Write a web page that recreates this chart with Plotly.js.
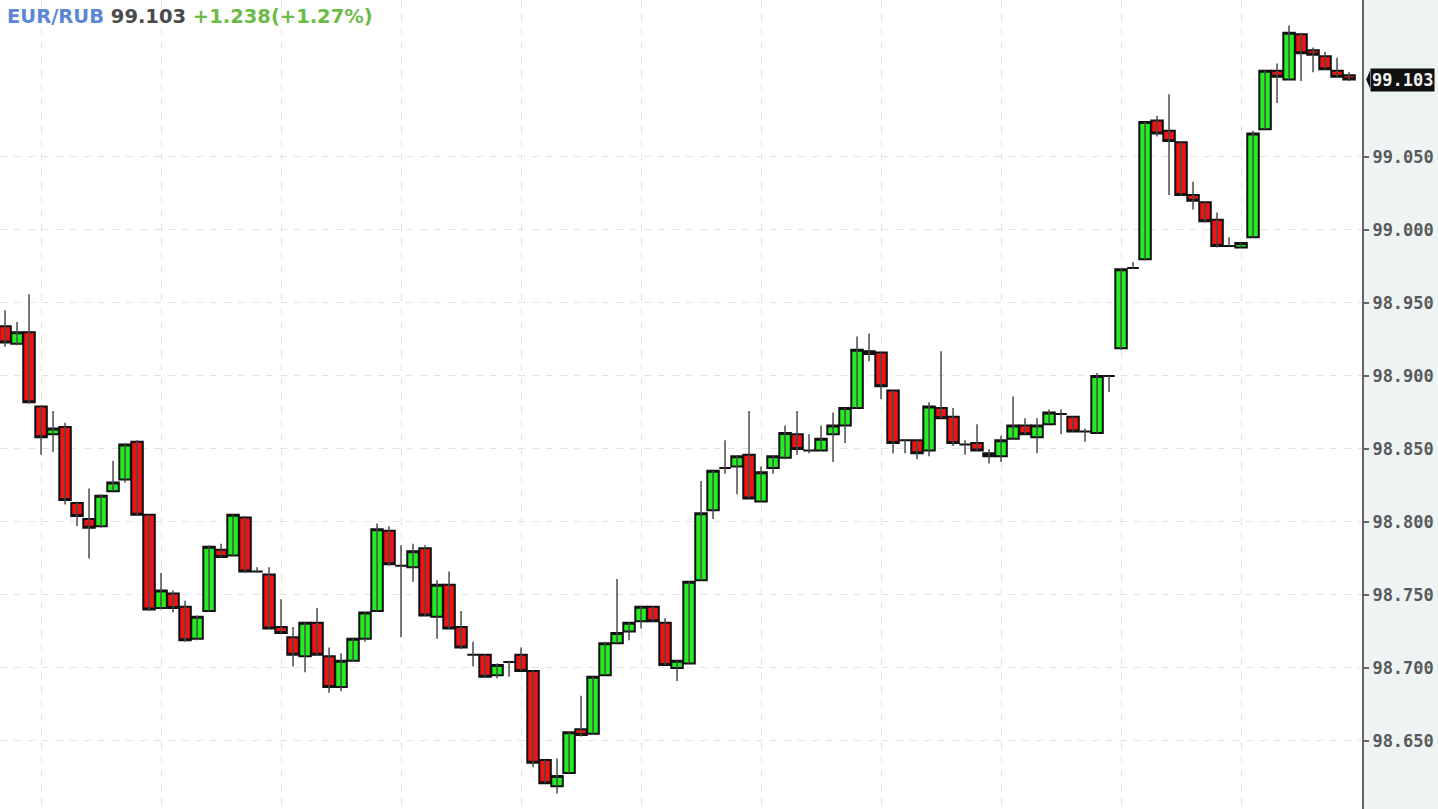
<!DOCTYPE html>
<html>
<head>
<meta charset="utf-8">
<script src="https://cdn.plot.ly/plotly-3.0.1.min.js"></script>
<style>
  html, body { margin: 0; padding: 0; background: #eef3f3; }
  #chart { width: 1438px; height: 809px; }
</style>
</head>
<body>
<div id="chart"></div>
<script>
// EUR/RUB candles (oldest first)
var openVals = [
  98.934, 98.922, 98.930, 98.879, 98.860, 98.865, 98.813, 98.802, 98.797, 98.821,
  98.829, 98.855, 98.805, 98.741, 98.751, 98.742, 98.720, 98.739, 98.781, 98.777,
  98.803, 98.766, 98.764, 98.728, 98.721, 98.708, 98.731, 98.708, 98.687, 98.705,
  98.720, 98.739, 98.794, 98.770, 98.769, 98.782, 98.735, 98.757, 98.728, 98.709,
  98.709, 98.695, 98.704, 98.709, 98.698, 98.637, 98.619, 98.628, 98.658, 98.655,
  98.695, 98.717, 98.725, 98.732, 98.742, 98.731, 98.700, 98.703, 98.760, 98.808,
  98.837, 98.838, 98.846, 98.814, 98.837, 98.844, 98.860, 98.849, 98.849, 98.860,
  98.866, 98.878, 98.917, 98.916, 98.890, 98.856, 98.856, 98.849, 98.878, 98.872,
  98.853, 98.854, 98.847, 98.845, 98.857, 98.866, 98.858, 98.867, 98.874, 98.872,
  98.862, 98.861, 98.900, 98.919, 98.974, 98.980, 99.075, 99.068, 99.060, 99.024,
  99.019, 99.007, 98.989, 98.988, 98.995, 99.069, 99.109, 99.103, 99.134, 99.123,
  99.119, 99.109, 99.106
];
var highVals = [
  98.945, 98.937, 98.956, 98.880, 98.876, 98.868, 98.814, 98.823, 98.819, 98.842,
  98.854, 98.856, 98.805, 98.765, 98.753, 98.746, 98.736, 98.784, 98.785, 98.805,
  98.804, 98.769, 98.769, 98.747, 98.728, 98.731, 98.741, 98.714, 98.710, 98.720,
  98.738, 98.799, 98.797, 98.784, 98.785, 98.784, 98.760, 98.766, 98.739, 98.718,
  98.709, 98.703, 98.705, 98.714, 98.698, 98.637, 98.638, 98.656, 98.681, 98.694,
  98.718, 98.761, 98.731, 98.742, 98.742, 98.734, 98.705, 98.759, 98.828, 98.835,
  98.856, 98.845, 98.876, 98.838, 98.845, 98.866, 98.876, 98.860, 98.866, 98.875,
  98.878, 98.927, 98.929, 98.916, 98.890, 98.856, 98.856, 98.882, 98.917, 98.878,
  98.856, 98.867, 98.850, 98.859, 98.886, 98.871, 98.871, 98.877, 98.877, 98.872,
  98.864, 98.902, 98.900, 98.973, 98.978, 99.074, 99.078, 99.093, 99.060, 99.033,
  99.019, 99.012, 98.995, 98.991, 99.068, 99.109, 99.114, 99.140, 99.135, 99.125,
  99.122, 99.118, 99.108
];
var lowVals = [
  98.920, 98.921, 98.881, 98.846, 98.848, 98.812, 98.797, 98.775, 98.796, 98.821,
  98.827, 98.805, 98.739, 98.740, 98.738, 98.718, 98.719, 98.739, 98.776, 98.777,
  98.765, 98.765, 98.727, 98.724, 98.701, 98.697, 98.709, 98.683, 98.684, 98.705,
  98.718, 98.739, 98.770, 98.721, 98.759, 98.736, 98.720, 98.727, 98.713, 98.701,
  98.694, 98.693, 98.694, 98.698, 98.632, 98.621, 98.614, 98.628, 98.653, 98.655,
  98.695, 98.717, 98.719, 98.727, 98.732, 98.702, 98.691, 98.703, 98.760, 98.802,
  98.833, 98.819, 98.816, 98.814, 98.833, 98.843, 98.846, 98.847, 98.849, 98.841,
  98.854, 98.878, 98.910, 98.884, 98.847, 98.847, 98.843, 98.845, 98.871, 98.852,
  98.846, 98.849, 98.840, 98.841, 98.857, 98.860, 98.847, 98.867, 98.860, 98.862,
  98.855, 98.861, 98.889, 98.918, 98.973, 98.979, 99.064, 99.024, 99.024, 99.014,
  99.005, 98.988, 98.989, 98.988, 98.995, 99.069, 99.087, 99.103, 99.102, 99.108,
  99.110, 99.105, 99.102
];
var closeVals = [
  98.923, 98.930, 98.882, 98.858, 98.864, 98.815, 98.804, 98.796, 98.818, 98.827,
  98.853, 98.805, 98.740, 98.753, 98.741, 98.719, 98.735, 98.783, 98.776, 98.805,
  98.766, 98.766, 98.727, 98.724, 98.709, 98.731, 98.709, 98.687, 98.705, 98.720,
  98.738, 98.795, 98.771, 98.770, 98.780, 98.736, 98.757, 98.727, 98.714, 98.709,
  98.694, 98.702, 98.704, 98.698, 98.635, 98.621, 98.626, 98.656, 98.654, 98.694,
  98.717, 98.724, 98.731, 98.742, 98.732, 98.702, 98.705, 98.759, 98.806, 98.835,
  98.837, 98.845, 98.816, 98.834, 98.845, 98.861, 98.850, 98.849, 98.857, 98.866,
  98.878, 98.918, 98.915, 98.893, 98.854, 98.856, 98.847, 98.879, 98.871, 98.854,
  98.853, 98.849, 98.845, 98.856, 98.866, 98.860, 98.866, 98.875, 98.874, 98.862,
  98.862, 98.900, 98.900, 98.973, 98.974, 99.074, 99.066, 99.061, 99.024, 99.020,
  99.006, 98.989, 98.989, 98.991, 99.066, 99.109, 99.105, 99.135, 99.121, 99.120,
  99.110, 99.105, 99.103
];
var priceTicks = [98.65, 98.70, 98.75, 98.80, 98.85, 98.90, 98.95, 99.00, 99.05];
var timeGrid = [3, 13, 23, 33, 43, 53, 63, 73, 83, 93, 103];

var symbol = 'EUR/RUB';
var lastPrice = 99.103;
var change = '+1.238';
var changePct = '+1.27%';

var bars = openVals.map(function (v, i) { return i; });

// bodies only: the wicks are drawn by the ohlc trace underneath, thinner and grey
var bodyTop = openVals.map(function (o, i) { return Math.max(o, closeVals[i]); });
var bodyBottom = openVals.map(function (o, i) { return Math.min(o, closeVals[i]); });

var wicks = {
  type: 'ohlc',
  x: bars,
  open: openVals,
  high: highVals,
  low: lowVals,
  close: closeVals,
  tickwidth: 0,
  increasing: { line: { color: '#4a4a4a', width: 1.5 } },
  decreasing: { line: { color: '#4a4a4a', width: 1.5 } },
  hoverinfo: 'skip',
  showlegend: false
};

var bodies = {
  type: 'candlestick',
  x: bars,
  open: openVals,
  high: bodyTop,
  low: bodyBottom,
  close: closeVals,
  whiskerwidth: 0,
  increasing: { fillcolor: '#22ee22', line: { color: '#111111', width: 2 } },
  decreasing: { fillcolor: '#ee1414', line: { color: '#111111', width: 2 } },
  hoverinfo: 'skip',
  showlegend: false
};

var layout = {
  width: 1438,
  height: 809,
  margin: { l: 0, r: 76, t: 0, b: 0 },
  paper_bgcolor: '#eef3f3',
  plot_bgcolor: '#ffffff',
  boxgap: 0.04,
  boxgroupgap: 0,
  showlegend: false,
  xaxis: {
    range: [-0.42, 113.08],
    rangeslider: { visible: false },
    tickvals: timeGrid,
    showticklabels: false,
    ticks: '',
    showgrid: true,
    gridcolor: '#e3e3e3',
    griddash: '7px,7px',
    zeroline: false,
    showline: false,
    fixedrange: true
  },
  yaxis: {
    side: 'right',
    range: [98.6034, 99.1575],
    tickvals: priceTicks,
    ticktext: priceTicks.map(function (v) { return v.toFixed(3); }),
    ticks: 'outside',
    ticklen: 5,
    tickwidth: 1.5,
    tickcolor: '#666666',
    tickfont: { family: 'DejaVu Sans Mono', size: 17, color: '#5a5a5a', weight: 'bold' },
    showgrid: true,
    gridcolor: '#e3e3e3',
    griddash: '7px,7px',
    zeroline: false,
    showline: true,
    linecolor: '#666666',
    linewidth: 2,
    fixedrange: true
  },
  shapes: [
    {
      type: 'path',
      xref: 'paper', yref: 'y',
      path: 'M 1.0031,' + lastPrice + ' L 1.0059,' + (lastPrice + 0.0062) +
            ' L 1.0059,' + (lastPrice - 0.0062) + ' Z',
      fillcolor: '#111111',
      line: { width: 0 }
    }
  ],
  annotations: [
    {
      xref: 'paper', yref: 'paper',
      x: 0, y: 1, xanchor: 'left', yanchor: 'top',
      xshift: 5, yshift: -3,
      showarrow: false,
      align: 'left',
      font: { family: 'DejaVu Sans', size: 19.5, weight: 'bold' },
      text: '<span style="color:#5b87d6">' + symbol + '</span> ' +
            '<span style="color:#4a4a4a">' + lastPrice.toFixed(3) + '</span> ' +
            '<span style="color:#6cbb48">' + change + '(' + changePct + ')</span>'
    },
    {
      xref: 'paper', yref: 'y',
      x: 1, y: lastPrice, xanchor: 'left', yanchor: 'middle',
      xshift: 8,
      showarrow: false,
      bgcolor: '#111111',
      borderpad: 1,
      font: { family: 'DejaVu Sans Mono', size: 17, color: '#f4f4f4', weight: 'bold' },
      text: lastPrice.toFixed(3)
    }
  ]
};

Plotly.newPlot('chart', [wicks, bodies], layout, { displayModeBar: false, staticPlot: true });
</script>
</body>
</html>
